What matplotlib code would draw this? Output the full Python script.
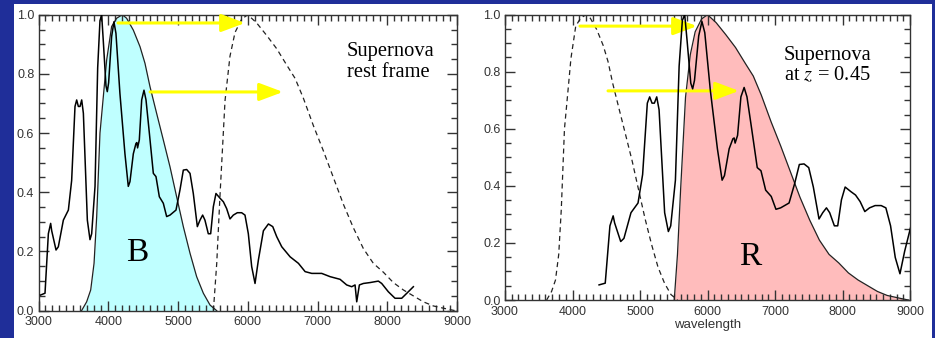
import numpy as np
import matplotlib
matplotlib.use("Agg")
import matplotlib.pyplot as plt
from matplotlib.ticker import MultipleLocator
from matplotlib.patches import Rectangle

plt.rcParams['font.family'] = ['Liberation Sans', 'DejaVu Sans']
plt.rcParams['mathtext.fontset'] = 'stix'

z = 0.45

# supernova spectrum in the rest frame (wavelength, relative flux)
spec_wave = [3030, 3093, 3141, 3174, 3189, 3251, 3284, 3356, 3428, 3475,
             3523, 3547, 3571, 3595, 3619, 3643, 3700, 3738, 3762, 3810,
             3848, 3881, 3905, 3929, 3967, 3986, 4005, 4048, 4081, 4110,
             4167, 4239, 4287, 4311, 4359, 4397, 4410, 4420, 4445, 4479,
             4512, 4541, 4589, 4646, 4684, 4732, 4789, 4837, 4885, 4971,
             5028, 5076, 5124, 5172, 5219, 5277, 5315, 5353, 5386, 5434,
             5468, 5506, 5544, 5602, 5650, 5697, 5745, 5793, 5850, 5912,
             5960, 6008, 6056, 6104, 6152, 6224, 6296, 6358, 6415, 6487,
             6607, 6726, 6822, 6917, 7060, 7180, 7323, 7418, 7490, 7538,
             7562, 7600, 7657, 7753, 7872, 7920, 8015, 8111, 8207, 8302,
             8374]
spec_flux = [0.053, 0.059, 0.26, 0.295, 0.27, 0.205, 0.216, 0.306, 0.34, 0.44,
             0.69, 0.712, 0.69, 0.69, 0.712, 0.667, 0.306, 0.24, 0.26, 0.42,
             0.82, 0.98, 1.0, 0.91, 0.76, 0.74, 0.77, 0.926, 0.976, 0.937,
             0.734, 0.53, 0.42, 0.436, 0.53, 0.565, 0.568, 0.55, 0.577, 0.712,
             0.745, 0.712, 0.6, 0.464, 0.453, 0.385, 0.363, 0.318, 0.323, 0.34,
             0.408, 0.475, 0.477, 0.464, 0.396, 0.284, 0.306, 0.323, 0.306, 0.26,
             0.26, 0.351, 0.396, 0.38, 0.368, 0.345, 0.31, 0.323, 0.331, 0.331,
             0.323, 0.26, 0.149, 0.092, 0.171, 0.27, 0.293, 0.284, 0.25, 0.216,
             0.182, 0.16, 0.132, 0.126, 0.126, 0.115, 0.106, 0.087, 0.081, 0.087,
             0.03, 0.087, 0.092, 0.095, 0.1, 0.092, 0.064, 0.042, 0.042, 0.064,
             0.081]

# B filter transmission
b_wave = [3617, 3690, 3748, 3796, 3834, 3881, 3929, 3977, 4048, 4120,
          4201, 4263, 4359, 4455, 4526, 4598, 4693, 4789, 4885, 4980,
          5076, 5172, 5267, 5363, 5459, 5555]
b_trans = [0.0, 0.03, 0.07, 0.16, 0.318, 0.6, 0.723, 0.847, 0.96, 0.988,
           1.0, 0.988, 0.948, 0.892, 0.836, 0.757, 0.667, 0.577, 0.486, 0.385,
           0.284, 0.194, 0.115, 0.059, 0.019, 0.0]

# R filter transmission
r_wave = [5507, 5555, 5602, 5674, 5745, 5817, 5912, 6000, 6128, 6271,
          6415, 6558, 6678, 6797, 6941, 7084, 7227, 7370, 7514, 7657,
          7800, 7944, 8087, 8231, 8374, 8517, 8661, 8852, 8975]
r_trans = [0.0, 0.16, 0.39, 0.71, 0.86, 0.94, 0.985, 1.0, 0.972, 0.93,
           0.885, 0.83, 0.785, 0.718, 0.625, 0.54, 0.45, 0.36, 0.28, 0.21,
           0.16, 0.13, 0.095, 0.07, 0.05, 0.03, 0.016, 0.006, 0.0]

# yellow arrows (start, end, height) for each panel
arrows_rest = [(4140, 5960, 0.972), (4599, 6505, 0.739)]
arrows_obs = [(4111, 5844, 0.96), (4526, 6467, 0.733)]

obs_wave = np.array(spec_wave) * (1 + z)

fig = plt.figure(figsize=(9.35, 3.38), dpi=100, facecolor='#1f2e99')
fig.patches.append(Rectangle((14 / 935, 0), 918 / 935, 334.5 / 338,
                             transform=fig.transFigure, facecolor='white',
                             edgecolor='none', zorder=-10))

ax1 = fig.add_axes([0.0412, 0.0808, 0.4476, 0.8757])
ax2 = fig.add_axes([0.5401, 0.1124, 0.4332, 0.8441])


def style_axes(ax):
    ax.set_xlim(3000, 9000)
    ax.set_ylim(0, 1.0)
    ax.xaxis.set_major_locator(MultipleLocator(1000))
    ax.xaxis.set_minor_locator(MultipleLocator(100))
    ax.yaxis.set_major_locator(MultipleLocator(0.2))
    ax.yaxis.set_minor_locator(MultipleLocator(0.05))
    ax.tick_params(which='both', direction='in', top=True, right=True,
                   color='#333333', width=1.0, labelsize=9,
                   labelcolor='#333333')
    ax.tick_params(which='major', length=7)
    ax.tick_params(which='minor', length=4)
    ax.tick_params(axis='x', pad=4)
    ax.tick_params(axis='y', pad=3)
    for s in ax.spines.values():
        s.set_color('#333333')
        s.set_linewidth(1.0)
    ax.set_facecolor('white')


def draw_arrows(ax, arrows):
    for x0, x1, y in arrows:
        ax.annotate('', xy=(x1, y), xytext=(x0, y), zorder=3,
                    arrowprops=dict(arrowstyle='-|>,head_length=0.8,head_width=0.3',
                                    color='#ffff00', lw=2.2, mutation_scale=18,
                                    shrinkA=0, shrinkB=0))


# rest frame
style_axes(ax1)
ax1.fill_between(b_wave, b_trans, color='#bfffff', lw=0, zorder=1)
ax1.plot(b_wave, b_trans, color='#222222', lw=0.9, zorder=2)
ax1.plot(r_wave, r_trans, color='#222222', lw=0.9, ls=(0, (4, 3)), zorder=2)
ax1.plot(spec_wave, spec_flux, color='black', lw=1.1, zorder=4)
draw_arrows(ax1, arrows_rest)
ax1.text(7423, 0.84, 'Supernova\nrest frame', family='Liberation Serif',
         fontsize=14.8, ha='left', va='center', linespacing=1.1)
ax1.text(4412, 0.195, 'B', family='Liberation Serif', fontsize=24,
         ha='center', va='center')

# redshifted
style_axes(ax2)
ax2.fill_between(r_wave, r_trans, color='#ffbcbc', lw=0, zorder=1)
ax2.plot(r_wave, r_trans, color='#222222', lw=0.9, zorder=2)
ax2.plot(b_wave, b_trans, color='#222222', lw=0.9, ls=(0, (4, 3)), zorder=2)
ax2.plot(obs_wave, spec_flux, color='black', lw=1.1, zorder=4)
draw_arrows(ax2, arrows_obs)
ax2.text(7133, 0.822, 'Supernova\nat $z$ = 0.45', family='Liberation Serif',
         fontsize=14.8, ha='left', va='center', linespacing=1.1)
ax2.text(6630, 0.151, 'R', family='Liberation Serif', fontsize=24,
         ha='center', va='center')
ax2.set_xlabel('wavelength', fontsize=9.5, color='#333333', labelpad=1)

fig.savefig('out.png', dpi=100, facecolor=fig.get_facecolor())
